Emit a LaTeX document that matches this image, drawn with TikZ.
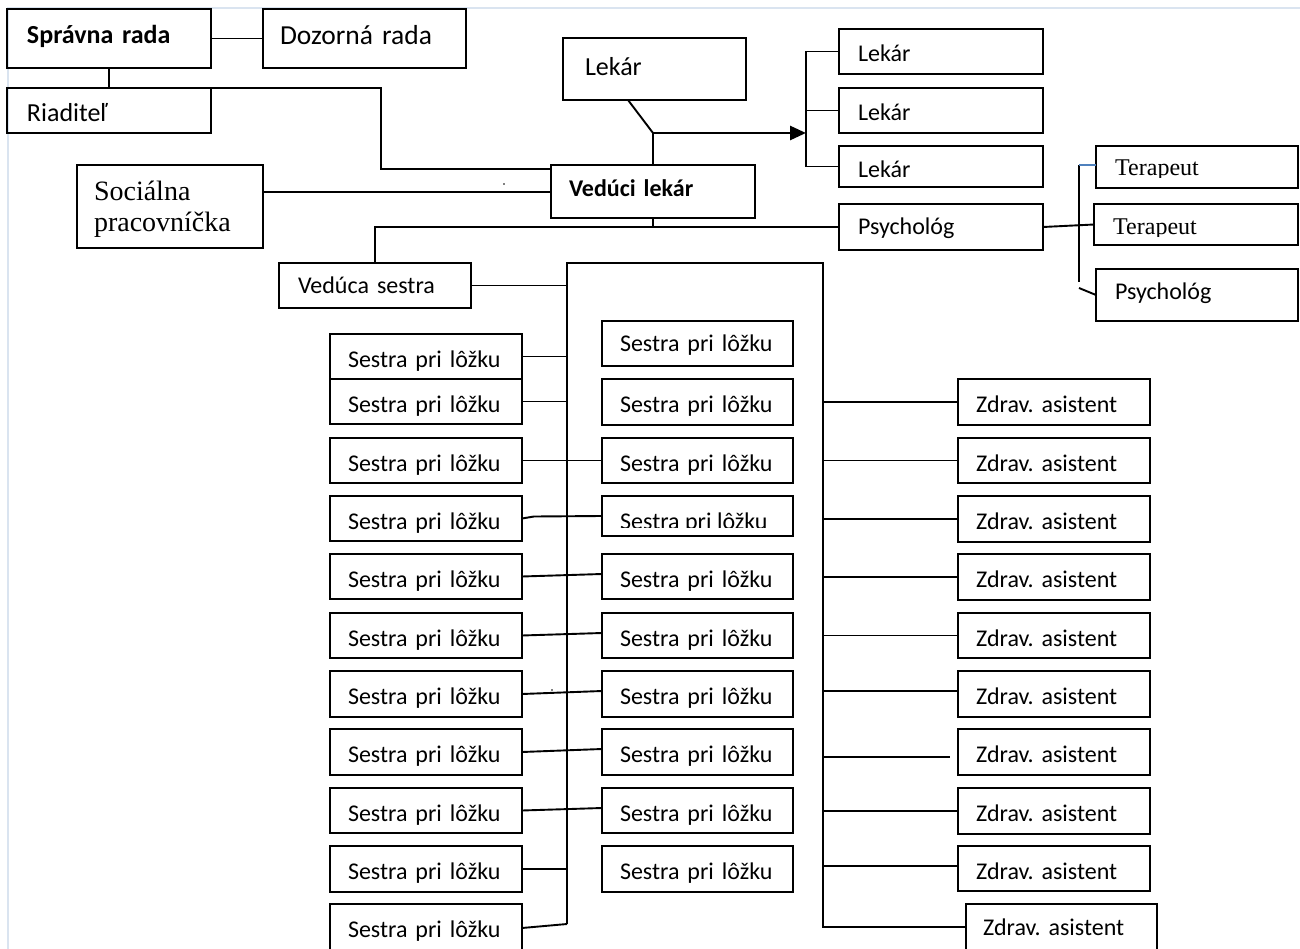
\documentclass[tikz,border=0pt]{standalone}
\usepackage{fontspec}
\setmainfont{Carlito}
\newfontfamily\tnr{Liberation Serif}
\usetikzlibrary{arrows.meta,calc}
\definecolor{edgeblue}{RGB}{218,228,240}
\definecolor{tickblue}{RGB}{79,129,189}
\frenchspacing
% #1 name, #2 x1, #3 y1, #4 x2, #5 y2, #6 left pad, #7 baseline offset, #8 style, #9 text
\newcommand\obox[9]{%
  \pgfmathsetmacro\bw{#4-#2}%
  \pgfmathsetmacro\bh{#5-#3}%
  \pgfmathsetmacro\btw{\bw-2*#6}%
  \pgfmathsetmacro\bth{2*#7-\bh}%
  \node[obox,#8,anchor=north west,minimum width=\bw pt,minimum height=\bh pt,
        text width=\btw pt,inner xsep=#6 pt,text height=\bth pt,text depth=0pt] (#1) at (#2,#3) {#9};}
\begin{document}
\begin{tikzpicture}[x=1pt,y=-1pt,font=\fontsize{24}{28}\selectfont\frenchspacing,
  obox/.style={draw,line width=2.1pt,inner ysep=0pt,outer sep=0pt,align=left},
  ln/.style={line width=1.9pt},
  arr/.style={line width=2.8pt,-{Triangle[length=16pt,width=14pt]}},
  big/.style={font=\fontsize{26}{30}\selectfont},
  bigb/.style={font=\fontsize{26}{30}\selectfont\bfseries},
  bold/.style={font=\fontsize{24}{28}\selectfont\bfseries},
  serif/.style={font=\tnr\fontsize{24}{28}\selectfont}]
\useasboundingbox (0,0) rectangle (1300,949);
\draw[edgeblue,line width=1.5pt] (8,949) -- (8,8) -- (1300,8);

% top level
\obox{sr}{7}{9}{211}{68}{20}{35}{bigb}{Správna rada}
\obox{dr}{263}{9}{466}{68}{17}{36}{font=\fontsize{27.5}{32}\selectfont}{Dozorná rada}
\obox{ri}{7}{88}{211}{133}{20}{34}{big}{Riaditeľ}
\obox{lk}{563}{38}{746}{100}{22}{38}{big}{Lekár}
\obox{l1}{839}{29}{1043}{74}{19}{33}{}{Lekár}
\obox{l2}{839}{88}{1043}{133}{19}{33}{}{Lekár}
\obox{l3}{839}{146}{1043}{187}{19}{32}{}{Lekár}
\obox{ps}{839}{204}{1043}{250}{19}{31}{}{Psychológ}
\obox{vl}{551}{165}{755}{218}{18}{32}{bold}{Vedúci lekár}
\node[obox,anchor=north west,minimum width=186pt,minimum height=83pt,text width=152pt,
      inner xsep=17pt,font=\tnr\fontsize{28}{31}\selectfont] (so) at (77,165)
      {\rule{0pt}{24pt}Sociálna\\pracovníčka};
\obox{vs}{279}{263}{471}{308}{19}{31}{}{Vedúca sestra}

% psychology team
\obox{t1}{1096}{146}{1298}{188}{19}{30}{}{}
\obox{t2}{1094}{204}{1298}{245}{19}{31}{}{}
\begin{scope}
  \clip (1096,146) rectangle (1298,178);
  \node[serif,anchor=base west,inner sep=0pt] (t1t) at (1115,176) {Terapeut};
\end{scope}
\begin{scope}
  \clip (1094,204) rectangle (1298,237);
  \node[serif,anchor=base west,inner sep=0pt] (t2t) at (1113,235) {Terapeut};
\end{scope}
\obox{p2}{1096}{269}{1298}{321}{19}{31}{}{Psychológ}

% left column
\obox{a1}{330}{334}{522}{379}{18}{33}{}{Sestra pri lôžku}
\obox{a2}{330}{379}{522}{424}{18}{33}{}{Sestra pri lôžku}
\obox{a3}{330}{438}{522}{483}{18}{33}{}{Sestra pri lôžku}
\obox{a4}{330}{496}{522}{541}{18}{33}{}{Sestra pri lôžku}
\obox{a5}{330}{554}{522}{599}{18}{33}{}{Sestra pri lôžku}
\obox{a6}{330}{613}{522}{658}{18}{33}{}{Sestra pri lôžku}
\obox{a7}{330}{671}{522}{717}{18}{33}{}{Sestra pri lôžku}
\obox{a8}{330}{729}{522}{775}{18}{33}{}{Sestra pri lôžku}
\obox{a9}{330}{788}{522}{833}{18}{33}{}{Sestra pri lôžku}
\obox{a10}{330}{846}{522}{892}{18}{33}{}{Sestra pri lôžku}
\obox{a11}{330}{904}{522}{952}{18}{33}{}{Sestra pri lôžku}

% middle column
\obox{b1}{602}{321}{793}{366}{18}{31}{}{Sestra pri lôžku}
\obox{b2}{602}{379}{793}{425}{18}{33}{}{Sestra pri lôžku}
\obox{b3}{602}{438}{793}{483}{18}{33}{}{Sestra pri lôžku}
\obox{b4}{602}{496}{793}{536}{18}{33}{}{}
\begin{scope}
  \clip (602,496) rectangle (793,527);
  \node[anchor=base west,inner sep=0pt] (b4t) at (620,529) {Sestra pri lôžku};
\end{scope}
\obox{b5}{602}{554}{793}{599}{18}{33}{}{Sestra pri lôžku}
\obox{b6}{602}{613}{793}{658}{18}{33}{}{Sestra pri lôžku}
\obox{b7}{602}{671}{793}{717}{18}{33}{}{Sestra pri lôžku}
\obox{b8}{602}{729}{793}{775}{18}{33}{}{Sestra pri lôžku}
\obox{b9}{602}{788}{793}{833}{18}{33}{}{Sestra pri lôžku}
\obox{b10}{602}{846}{793}{892}{18}{33}{}{Sestra pri lôžku}

% assistants
\obox{z1}{958}{379}{1150}{425}{18}{33}{}{Zdrav. asistent}
\obox{z2}{958}{438}{1150}{483}{18}{33}{}{Zdrav. asistent}
\obox{z3}{958}{496}{1150}{542}{18}{33}{}{Zdrav. asistent}
\obox{z4}{958}{554}{1150}{600}{18}{33}{}{Zdrav. asistent}
\obox{z5}{958}{613}{1150}{658}{18}{33}{}{Zdrav. asistent}
\obox{z6}{958}{671}{1150}{717}{18}{33}{}{Zdrav. asistent}
\obox{z7}{958}{729}{1150}{775}{18}{33}{}{Zdrav. asistent}
\obox{z8}{958}{788}{1150}{834}{18}{33}{}{Zdrav. asistent}
\obox{z9}{958}{846}{1150}{891}{18}{33}{}{Zdrav. asistent}
\obox{z10}{966}{904}{1157}{952}{17}{31}{}{Zdrav. asistent}

% coordinates
\coordinate (rk) at (381,169);
\coordinate (sk) at (263,192);
\coordinate (lkd) at (628,100);
\coordinate (j1) at (653,133);
\coordinate (bt) at (806,52);
\coordinate (hy) at (653,227);
\coordinate (fa) at (567,924);
\coordinate (fb) at (567,263);
\coordinate (fc) at (823,263);
\coordinate (fd) at (823,927);
\coordinate (pt) at (1079,165);
\coordinate (pb) at (1079,282);
\coordinate (pd) at (1079,288);
\coordinate (e6) at (823,691);
\coordinate (e7a) at (823,757);
\coordinate (e7b) at (950,757);
\coordinate (e9) at (822,866);

% connectors, top part
\draw[ln] (sr.east) -- (dr.west);
\draw[ln] (sr.south) -- (ri.north);
\draw[ln] (ri.north east) -| (rk) -- (vl.west |- rk);
\draw[ln] (so.east |- sk) -- (vl.west |- sk);
\fill (504,184) circle (0.9);
\draw[ln] (lkd) -- (j1) -- (vl.north);
\draw[arr] (j1) -- (j1 -| bt);
\draw[ln] (l1.west) -| (l3.west -| bt) -- (l3.west);
\draw[ln] (l2.west) -- (l2.west -| bt);
\draw[ln] (vl.south) -- (hy);
\draw[ln] (vs.north) |- (ps.west);
\draw[ln] (ps.east) -- (t2.west);
\draw[ln] (pt) -- (pb);
\draw[ln,tickblue] (pt) -- (t1.west |- pt);
\draw[ln] (pd) -- (p2.west);

% nurse frame
\draw[ln] (vs.east) -- (vs.east -| fb);
\draw[ln] (fa) -- (fb) -- (fc) -- (fd) -- (z10.west |- fd);

% left column connectors
\draw[ln] (a1.east) -- (a1.east -| fb);
\draw[ln] (a2.east) -- (a2.east -| fb);
\draw[ln] (a3.east) -- (b3.west);
\draw[ln] (a4.east) -- ++(12,-2) -- (b4.west);
\draw[ln] (a5.east) -- ($(b5.west)+(0,-2.5)$);
\draw[ln] (a6.east) -- ($(b6.west)+(0,-2.5)$);
\draw[ln] (a7.east) -- ($(b7.west)+(0,-3)$);
\draw[ln] (a8.east) -- ($(b8.west)+(0,-3)$);
\draw[ln] (a9.east) -- ($(b9.west)+(0,-2.5)$);
\fill (552,690) circle (0.8);
\draw[ln] (a10.east) -- (a10.east -| fb);
\draw[ln] (a11.east) -- (fa);

% assistant connectors
\draw[ln] (z1.west -| fc) -- (z1.west);
\draw[ln] (z2.west -| fc) -- (z2.west);
\draw[ln] (z3.west -| fc) -- (z3.west);
\draw[ln] (z4.west -| fc) -- (z4.west);
\draw[ln] (z5.west -| fc) -- (z5.west);
\draw[ln] (e6) -- (z6.west |- e6);
\draw[ln] (e7a) -- (e7b);
\draw[ln] (z8.west -| fc) -- (z8.west);
\draw[ln] (e9) -- (z9.west |- e9);
\end{tikzpicture}
\end{document}
